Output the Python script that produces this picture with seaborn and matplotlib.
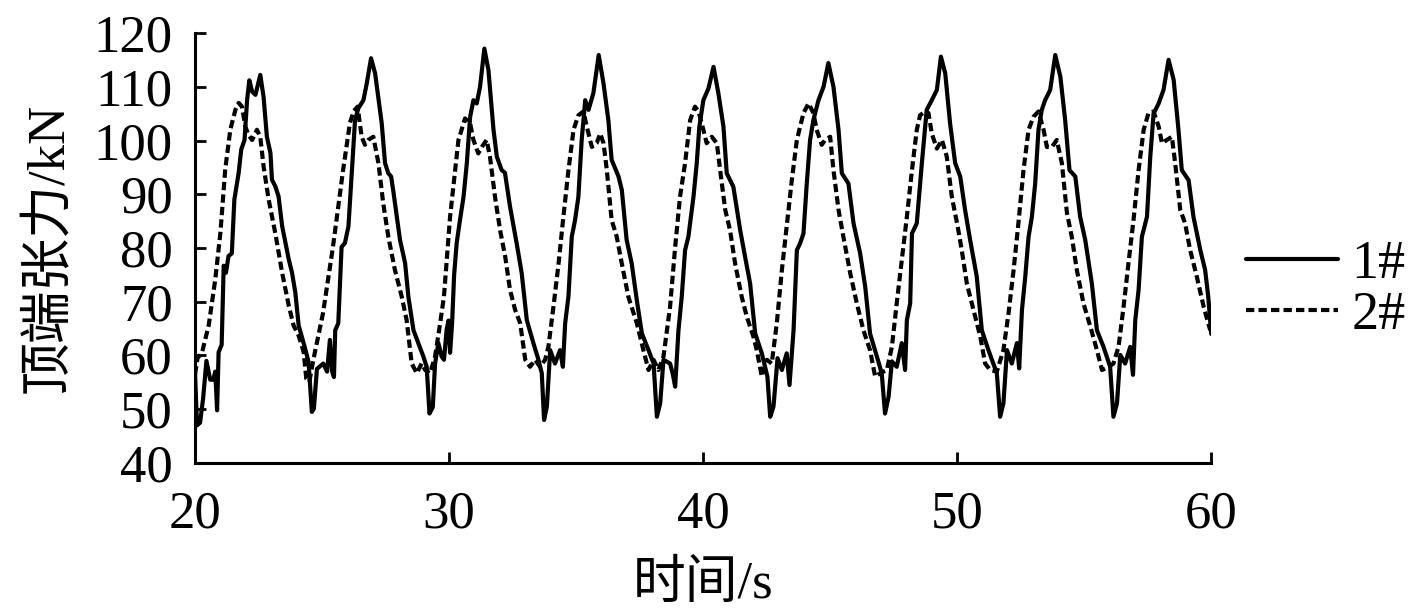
import matplotlib
matplotlib.use("Agg")
import matplotlib.pyplot as plt
import seaborn as sns
import pandas as pd

# 1# 顶端张力 (实线)
time_1 = [
    20.00, 20.08, 20.20, 20.32, 20.45, 20.60, 20.72, 20.80, 20.87, 20.93, 21.05, 21.13, 21.22, 21.32,
    21.45, 21.55, 21.72, 21.82, 21.95, 22.05, 22.14, 22.25, 22.38, 22.57, 22.70, 22.83, 22.97, 23.03,
    23.16, 23.29, 23.43, 23.69, 23.82, 23.95, 24.08, 24.34, 24.47, 24.60, 24.68, 24.80, 25.05, 25.20,
    25.31, 25.40, 25.47, 25.52, 25.64, 25.77, 25.90, 26.04, 26.17, 26.30, 26.43, 26.63, 26.76, 26.93,
    27.09, 27.35, 27.48, 27.61, 27.72, 27.80, 28.07, 28.27, 28.40, 28.60, 28.79, 28.99, 29.12, 29.23,
    29.36, 29.45, 29.58, 29.71, 29.80, 29.91, 29.98, 30.04, 30.12, 30.20, 30.30, 30.43, 30.57, 30.70,
    30.83, 30.96, 31.09, 31.22, 31.39, 31.55, 31.75, 31.88, 32.07, 32.20, 32.40, 32.66, 32.86, 33.06,
    33.32, 33.52, 33.65, 33.74, 33.85, 33.98, 34.17, 34.37, 34.48, 34.57, 34.70, 34.83, 34.96, 35.09,
    35.22, 35.36, 35.49, 35.68, 35.89, 36.08, 36.27, 36.40, 36.67, 36.80, 36.99, 37.19, 37.39, 37.59,
    37.85, 38.05, 38.18, 38.31, 38.44, 38.70, 38.80, 38.90, 39.03, 39.16, 39.29, 39.42, 39.62, 39.75,
    39.85, 40.01, 40.21, 40.41, 40.60, 40.80, 40.93, 41.19, 41.46, 41.65, 41.85, 42.05, 42.31, 42.53,
    42.64, 42.77, 42.93, 43.10, 43.29, 43.40, 43.56, 43.69, 43.82, 43.95, 44.08, 44.21, 44.34, 44.54,
    44.74, 44.93, 45.13, 45.33, 45.46, 45.72, 45.92, 46.18, 46.38, 46.57, 46.84, 47.03, 47.16, 47.30,
    47.43, 47.62, 47.82, 47.95, 48.02, 48.15, 48.22, 48.41, 48.61, 48.80, 49.00, 49.20, 49.36, 49.53,
    49.72, 49.92, 50.12, 50.31, 50.51, 50.77, 50.97, 51.23, 51.56, 51.69, 51.82, 51.96, 52.15, 52.35,
    52.44, 52.55, 52.68, 52.81, 52.94, 53.07, 53.20, 53.33, 53.46, 53.66, 53.86, 54.06, 54.25, 54.42,
    54.65, 54.84, 55.04, 55.30, 55.50, 55.76, 56.02, 56.15, 56.29, 56.42, 56.61, 56.81, 56.92, 57.01,
    57.14, 57.27, 57.47, 57.60, 57.73, 57.93, 58.12, 58.32, 58.52, 58.71, 58.84, 59.11, 59.30, 59.57,
    59.76, 59.88, 60.00,
]
force_1 = [
    57.0, 47.0, 47.5, 52.0, 59.0, 55.5, 55.5, 57.0, 49.8, 60.6, 62.0, 76.7, 75.4, 78.5,
    79.0, 89.0, 94.0, 98.3, 100.1, 107.5, 111.2, 109.1, 108.5, 112.2, 108.1, 100.7, 97.7, 92.7,
    91.5, 89.6, 84.1, 77.9, 75.4, 71.7, 65.6, 61.2, 58.8, 49.5, 50.1, 57.5, 58.5, 57.0,
    62.9, 57.0, 56.0, 64.7, 66.0, 80.2, 80.9, 84.0, 93.9, 103.8, 106.0, 107.5, 110.6, 115.3,
    112.5, 103.2, 95.8, 93.9, 93.3, 90.8, 81.5, 77.2, 70.9, 64.7, 62.3, 59.8, 57.9, 49.2,
    50.4, 58.5, 62.3, 59.8, 59.2, 65.0, 66.5, 60.5, 66.0, 75.0, 80.9, 85.2, 89.5, 95.8,
    104.4, 107.5, 106.9, 110.0, 117.1, 113.1, 102.0, 97.0, 94.5, 94.0, 87.7, 80.9, 75.3, 66.6,
    62.3, 59.2, 56.7, 48.0, 50.5, 61.0, 58.5, 61.0, 57.9, 66.0, 71.0, 82.1, 85.2, 89.5,
    100.1, 107.5, 105.7, 108.8, 115.9, 110.6, 103.8, 96.4, 93.3, 90.8, 81.5, 77.1, 70.3, 64.1,
    61.0, 58.5, 48.6, 51.1, 59.2, 58.5, 56.7, 54.2, 64.7, 71.0, 79.6, 82.1, 89.5, 95.8,
    102.5, 107.5, 109.7, 113.7, 108.8, 102.6, 93.9, 91.4, 83.3, 78.4, 73.4, 64.1, 60.4, 56.1,
    48.6, 50.5, 59.5, 57.3, 60.4, 54.5, 64.7, 79.6, 80.9, 82.7, 92.0, 100.1, 103.8, 107.5,
    110.0, 114.4, 110.0, 102.0, 93.9, 92.0, 84.6, 79.0, 72.8, 64.1, 59.8, 56.7, 49.2, 52.3,
    58.9, 57.9, 62.3, 57.3, 66.6, 69.7, 82.7, 84.6, 95.8, 105.7, 107.5, 109.4, 115.6, 112.5,
    103.2, 95.8, 93.3, 87.1, 81.5, 74.7, 64.7, 61.0, 56.7, 48.6, 51.1, 61.0, 58.5, 62.3,
    57.6, 68.5, 74.7, 82.1, 85.8, 92.0, 102.0, 105.7, 107.5, 109.4, 115.9, 111.9, 103.8, 94.5,
    93.3, 85.8, 81.5, 73.4, 64.7, 61.6, 57.9, 48.6, 51.1, 60.1, 58.5, 61.6, 56.4, 66.6,
    72.2, 82.1, 85.8, 97.0, 105.0, 106.9, 109.4, 115.0, 111.3, 102.0, 94.5, 92.6, 85.8, 79.6,
    75.9, 71.0, 64.0,
]

# 2# 顶端张力 (虚线)
time_2 = [
    20.00, 20.10, 20.28, 20.54, 20.80, 21.00, 21.19, 21.39, 21.59, 21.72, 21.85, 21.98, 22.11, 22.25,
    22.44, 22.57, 22.70, 22.90, 23.16, 23.43, 23.69, 23.88, 24.08, 24.28, 24.38, 24.50, 24.65, 25.04,
    25.43, 25.83, 26.10, 26.25, 26.40, 26.56, 26.69, 26.82, 27.02, 27.22, 27.41, 27.61, 27.87, 28.14,
    28.33, 28.53, 28.73, 28.92, 29.06, 29.25, 29.45, 29.65, 29.80, 30.04, 30.24, 30.37, 30.63, 30.83,
    30.96, 31.15, 31.29, 31.48, 31.61, 31.81, 32.01, 32.21, 32.40, 32.60, 32.80, 33.00, 33.19, 33.39,
    33.58, 33.78, 33.91, 34.11, 34.31, 34.50, 34.70, 34.90, 35.09, 35.29, 35.42, 35.62, 35.81, 35.95,
    36.08, 36.21, 36.40, 36.60, 36.80, 37.06, 37.39, 37.65, 37.85, 38.05, 38.24, 38.44, 38.70, 38.90,
    39.09, 39.29, 39.49, 39.68, 39.82, 40.01, 40.14, 40.34, 40.54, 40.67, 40.87, 41.06, 41.26, 41.52,
    41.72, 41.98, 42.11, 42.31, 42.51, 42.70, 42.90, 43.10, 43.29, 43.49, 43.69, 43.95, 44.15, 44.34,
    44.47, 44.67, 44.80, 45.00, 45.13, 45.33, 45.52, 45.79, 46.05, 46.31, 46.57, 46.77, 46.97, 47.23,
    47.43, 47.62, 47.82, 48.02, 48.22, 48.41, 48.54, 48.74, 48.87, 49.00, 49.20, 49.40, 49.59, 49.79,
    50.02, 50.18, 50.38, 50.64, 50.91, 51.10, 51.30, 51.56, 51.82, 52.02, 52.22, 52.41, 52.61, 52.81,
    53.00, 53.20, 53.40, 53.53, 53.73, 53.92, 54.12, 54.32, 54.51, 54.71, 54.97, 55.24, 55.50, 55.70,
    55.96, 56.15, 56.35, 56.55, 56.74, 56.94, 57.14, 57.34, 57.53, 57.73, 57.93, 58.06, 58.25, 58.45,
    58.58, 58.78, 58.97, 59.17, 59.43, 59.70, 59.96,
]
force_2 = [
    56.5, 59.5, 60.6, 65.6, 74.2, 82.8, 94.6, 102.0, 105.7, 107.0, 106.3, 102.6, 101.0, 100.1,
    102.0, 100.7, 95.2, 89.0, 82.8, 75.4, 69.3, 65.6, 63.7, 60.6, 55.7, 55.1, 59.0, 67.9,
    80.2, 94.5, 103.3, 105.5, 106.3, 100.7, 99.2, 100.1, 100.7, 95.8, 88.3, 82.1, 75.9, 70.9,
    66.6, 58.5, 56.7, 58.5, 57.3, 56.7, 59.8, 66.0, 71.0, 85.8, 94.5, 100.1, 104.1, 103.2,
    100.1, 97.6, 98.8, 100.1, 97.0, 89.5, 83.3, 78.4, 72.2, 68.5, 66.0, 59.2, 57.9, 59.2,
    57.9, 59.2, 61.6, 69.1, 77.1, 85.8, 94.5, 102.0, 104.7, 105.4, 102.6, 98.8, 99.5, 101.3,
    99.5, 94.5, 85.2, 82.1, 77.1, 70.9, 66.0, 61.0, 57.3, 59.2, 57.3, 59.8, 69.1, 80.2,
    89.5, 95.8, 103.8, 106.3, 105.4, 102.0, 99.5, 100.7, 99.5, 94.5, 87.1, 83.3, 77.1, 70.9,
    67.2, 63.5, 61.0, 56.1, 59.2, 58.5, 66.0, 75.9, 84.0, 92.6, 100.1, 105.1, 106.9, 105.1,
    102.0, 99.2, 100.1, 100.7, 94.5, 87.1, 82.1, 75.3, 69.7, 64.7, 61.0, 56.1, 56.7, 57.3,
    61.6, 69.7, 77.8, 85.8, 94.5, 102.0, 104.7, 105.4, 105.1, 101.3, 98.5, 100.1, 97.0, 89.5,
    84.0, 79.6, 73.4, 68.5, 63.5, 58.5, 57.3, 57.0, 61.0, 67.8, 75.9, 84.6, 94.5, 102.0,
    104.4, 105.4, 102.0, 98.8, 98.8, 100.1, 95.8, 86.5, 82.1, 75.9, 69.7, 65.4, 61.0, 57.3,
    57.9, 58.5, 61.6, 69.1, 77.1, 85.2, 94.5, 102.0, 105.1, 105.4, 102.6, 99.5, 100.1, 100.7,
    95.8, 87.1, 84.6, 79.6, 74.7, 69.1, 64.7,
]

x_ticks = [20, 30, 40, 50, 60]
y_ticks = [40, 50, 60, 70, 80, 90, 100, 110, 120]
series_names = ["1#", "2#"]

df = pd.concat([
    pd.DataFrame({"t": time_1, "F": force_1, "series": series_names[0]}),
    pd.DataFrame({"t": time_2, "F": force_2, "series": series_names[1]}),
], ignore_index=True)

sns.set_style("ticks")
plt.rcParams["font.family"] = ["Liberation Serif", "Noto Sans CJK SC"]
plt.rcParams["axes.unicode_minus"] = False
for key in ["text.color", "axes.labelcolor", "xtick.color", "ytick.color", "axes.edgecolor"]:
    plt.rcParams[key] = "black"

fig = plt.figure(figsize=(14.17, 6.16), dpi=100)
ax = fig.add_axes([0.1376, 0.2484, 0.7172, 0.698])

sns.lineplot(data=df, x="t", y="F", style="series", style_order=series_names,
             dashes={"1#": "", "2#": (2.0, 1.0)}, color="black", linewidth=3.0,
             estimator=None, sort=False, ax=ax, legend=True,
             solid_joinstyle="round", dash_joinstyle="round")

ax.set_xlim(20, 60)
ax.set_ylim(40, 120)
ax.set_xticks(x_ticks)
ax.set_yticks(y_ticks)
ax.tick_params(direction="in", length=8, width=2, labelsize=38, colors="black")
ax.tick_params(axis="x", pad=20)
ax.tick_params(axis="y", pad=16)
for s in ["top", "right"]:
    ax.spines[s].set_visible(False)
for s in ["left", "bottom"]:
    ax.spines[s].set_linewidth(2.2)

ax.set_xlabel("时间/s", fontsize=38, labelpad=16)
ax.set_ylabel("顶端张力/kN", fontsize=38, labelpad=14)

handles, labels = ax.get_legend_handles_labels()
ax.legend(handles, labels, loc="center left", bbox_to_anchor=(0.879, 0.529),
          bbox_transform=fig.transFigure, frameon=False, fontsize=39,
          handlelength=1.7, handletextpad=0.25, labelspacing=0.02, borderpad=0,
          borderaxespad=0)

fig.savefig("out.png", dpi=100)
